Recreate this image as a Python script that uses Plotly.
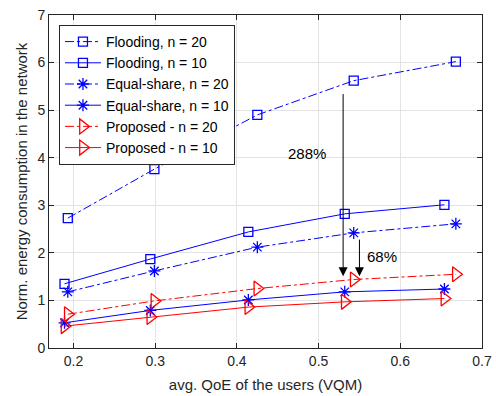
import plotly.graph_objects as go

# Average QoE (VQM) and normalized energy consumption per scheme
qoe_flood_20 = [0.193, 0.299, 0.425, 0.543, 0.668]
energy_flood_20 = [2.73, 3.76, 4.90, 5.62, 6.02]

qoe_flood_10 = [0.189, 0.294, 0.414, 0.532, 0.654]
energy_flood_10 = [1.35, 1.87, 2.44, 2.82, 3.01]

qoe_equal_20 = [0.193, 0.299, 0.425, 0.543, 0.668]
energy_equal_20 = [1.18, 1.62, 2.12, 2.42, 2.61]

qoe_equal_10 = [0.189, 0.294, 0.414, 0.532, 0.654]
energy_equal_10 = [0.53, 0.79, 1.01, 1.18, 1.24]

qoe_prop_20 = [0.193, 0.299, 0.425, 0.543, 0.668]
energy_prop_20 = [0.71, 0.99, 1.25, 1.44, 1.55]

qoe_prop_10 = [0.189, 0.294, 0.414, 0.532, 0.654]
energy_prop_10 = [0.46, 0.65, 0.86, 0.97, 1.04]

x_ticks = [0.2, 0.3, 0.4, 0.5, 0.6, 0.7]
y_ticks = [0, 1, 2, 3, 4, 5, 6, 7]

BLUE = "#0000FF"
RED = "#FF0000"
FONT = "Liberation Sans, Arial, sans-serif"
INK = "#262626"

series = [
    ("Flooding, n = 20", qoe_flood_20, energy_flood_20, BLUE, "dashdot", "square-open", 9),
    ("Flooding, n = 10", qoe_flood_10, energy_flood_10, BLUE, "solid", "square-open", 9),
    ("Equal-share, n = 20", qoe_equal_20, energy_equal_20, BLUE, "dashdot", "asterisk-open", 10),
    ("Equal-share, n = 10", qoe_equal_10, energy_equal_10, BLUE, "solid", "asterisk-open", 10),
    ("Proposed - n = 20", qoe_prop_20, energy_prop_20, RED, "dashdot", "triangle-right-open", 13),
    ("Proposed - n = 10", qoe_prop_10, energy_prop_10, RED, "solid", "triangle-right-open", 13),
]

fig = go.Figure()
for name, xs, ys, color, dash, symbol, size in series:
    fig.add_trace(go.Scatter(
        x=xs, y=ys, name=name, mode="lines+markers",
        line=dict(color=color, width=1, dash=dash),
        marker=dict(symbol=symbol, size=size, color=color,
                    line=dict(color=color, width=1.3)),
    ))

# Arrows showing the energy savings
arrow_x_big = 0.53
arrow_x_small = 0.55
arrow_tip = 1.51
fig.add_annotation(x=arrow_x_big, y=arrow_tip, ax=arrow_x_big, ay=5.37,
                   xref="x", yref="y", axref="x", ayref="y",
                   showarrow=True, arrowhead=2, arrowsize=1.8, arrowwidth=1,
                   arrowcolor="black", text="")
fig.add_annotation(x=arrow_x_small, y=arrow_tip, ax=arrow_x_small, ay=2.31,
                   xref="x", yref="y", axref="x", ayref="y",
                   showarrow=True, arrowhead=2, arrowsize=1.8, arrowwidth=1,
                   arrowcolor="black", text="")
fig.add_annotation(x=0.486, y=4.08, xref="x", yref="y", text="288%",
                   showarrow=False, font=dict(family=FONT, size=15, color="black"))
fig.add_annotation(x=0.578, y=1.92, xref="x", yref="y", text="68%",
                   showarrow=False, font=dict(family=FONT, size=15, color="black"))

axis_common = dict(
    showline=True, linecolor=INK, linewidth=1, mirror="ticks",
    ticks="inside", ticklen=5, tickcolor=INK,
    showgrid=True, gridcolor="#E3E3E3", gridwidth=1, zeroline=False,
    tickfont=dict(family=FONT, size=14, color=INK),
    automargin=False,
)

fig.update_layout(
    width=496, height=396,
    margin=dict(l=49, r=14, t=15, b=48),
    paper_bgcolor="white", plot_bgcolor="white",
    font=dict(family=FONT, size=14, color=INK),
    xaxis=dict(range=[0.17, 0.7], tickvals=x_ticks, ticktext=[str(v) for v in x_ticks],
               title=dict(text="avg. QoE of the users (VQM)", standoff=11,
                          font=dict(family=FONT, size=15, color=INK)),
               **axis_common),
    yaxis=dict(range=[0, 7], tickvals=y_ticks,
               title=dict(text="Norm. energy consumption in the network", standoff=6,
                          font=dict(family=FONT, size=15, color=INK)),
               **axis_common),
    legend=dict(x=0.023, y=0.97, xanchor="left", yanchor="top",
                bgcolor="white", bordercolor=INK, borderwidth=1,
                font=dict(family=FONT, size=14, color="black"),
                tracegroupgap=0, itemwidth=36),
    showlegend=True,
)

fig.write_html("out.html")
